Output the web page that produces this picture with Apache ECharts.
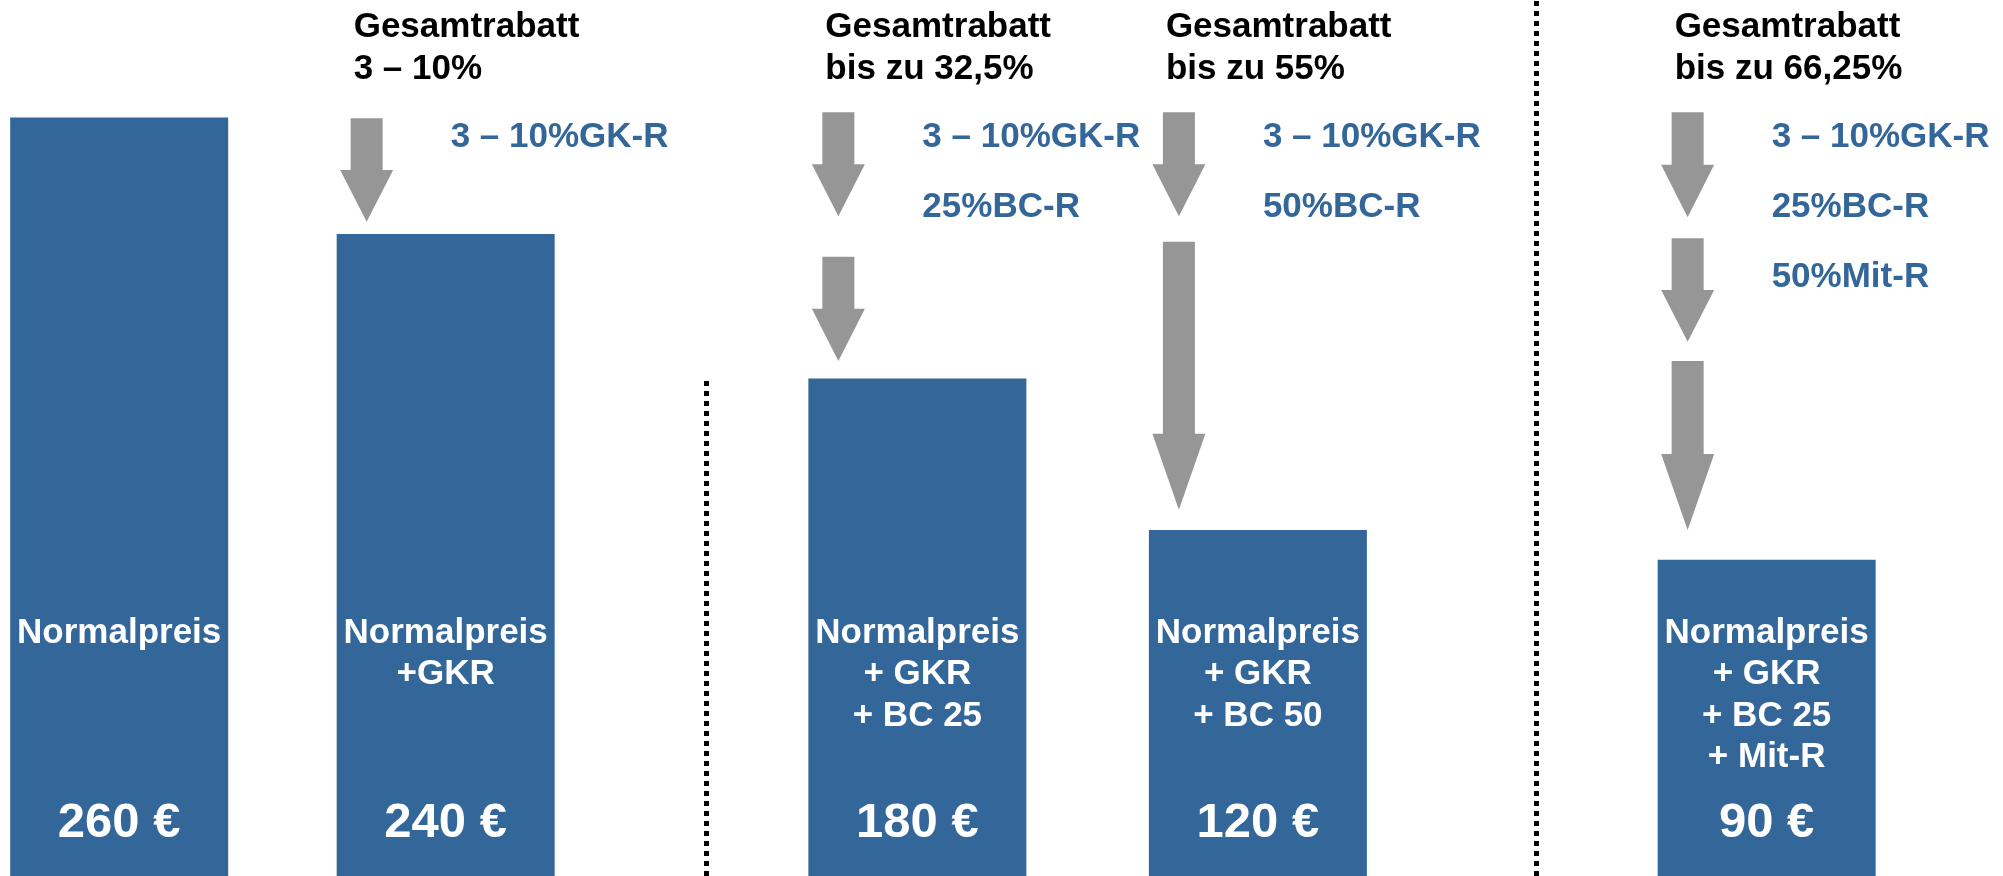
<!DOCTYPE html>
<html lang="de">
<head>
  <meta charset="UTF-8">
  <script src="https://cdn.jsdelivr.net/npm/echarts@6/dist/echarts.min.js"></script>
  <title>Rabattstufen</title>
  <style>
    html, body { margin: 0; padding: 0; background: #fff; }
    #main { width: 2003px; height: 876px; }
  </style>
</head>
<body>
  <div id="main"></div>
  <script>
    // bars: label, price, drawn height (schematic, % of chart height), column slot on x
    var categories = ['Normalpreis', 'Normalpreis\n+GKR', 'Normalpreis\n+ GKR\n+ BC 25', 'Normalpreis\n+ GKR\n+ BC 50', 'Normalpreis\n+ GKR\n+ BC 25\n+ Mit-R'];
    var prices = [260, 240, 180, 120, 90];
    var barHeights = [86.6, 73.3, 56.8, 39.5, 36.1];
    var slots = [1.19, 4.45, 9.16, 12.56, 17.64];

    // dotted separators: [slot, top]
    var separators = [[7.05, 56.8], [15.34, 100]];

    // discount groups, one per discounted bar
    var groupBars = [1, 2, 3, 4];
    var totals = [
      ['Gesamtrabatt', '3 – 10%'],
      ['Gesamtrabatt', 'bis zu 32,5%'],
      ['Gesamtrabatt', 'bis zu 55%'],
      ['Gesamtrabatt', 'bis zu 66,25%']
    ];
    var steps = [
      ['3 – 10%GK-R'],
      ['3 – 10%GK-R', '25%BC-R'],
      ['3 – 10%GK-R', '50%BC-R'],
      ['3 – 10%GK-R', '25%BC-R', '50%Mit-R']
    ];
    // arrows: [bar index, from, to]
    var arrows = [
      [1, 86.5, 74.7],
      [2, 87.2, 75.3], [2, 70.7, 58.8],
      [3, 87.2, 75.3], [3, 72.4, 41.8],
      [4, 87.2, 75.2], [4, 72.8, 61.0], [4, 58.8, 39.5]
    ];

    var BLUE = '#336699';
    var GRAY = '#969696';
    var FONT = '"Liberation Sans", Arial, sans-serif';

    var myChart = echarts.init(document.getElementById('main'));

    myChart.setOption({
      animation: false,
      grid: { left: 0, right: 0, top: 0, bottom: 0 },
      xAxis: { type: 'value', min: 0, max: 20, show: false },
      yAxis: { type: 'value', min: 0, max: 100, show: false },
      series: [
        {
          type: 'bar',
          barWidth: 218,
          itemStyle: { color: BLUE },
          data: barHeights.map(function (h, i) {
            return { value: [slots[i], h], name: categories[i] };
          }),
          label: {
            show: true,
            position: 'insideBottom',
            distance: 7.5,
            formatter: function (p) {
              var lines = categories[p.dataIndex].split('\n');
              while (lines.length < 4) lines.push(' ');
              return lines.map(function (l) { return '{n|' + l + '}'; }).join('\n') +
                '\n{p|' + prices[p.dataIndex] + ' €}';
            },
            rich: {
              n: { fontSize: 35, fontWeight: 'bold', fontFamily: FONT, color: '#fff', lineHeight: 41.5 },
              p: { fontSize: 49, fontWeight: 'bold', fontFamily: FONT, color: '#fff', lineHeight: 90 }
            }
          },
          markLine: {
            silent: true,
            symbol: 'none',
            label: { show: false },
            lineStyle: { color: '#000', width: 5, type: [5, 5], cap: 'butt' },
            data: separators.map(function (s) {
              return [{ coord: [s[0], 0] }, { coord: [s[0], s[1]] }];
            })
          }
        },
        {
          // grey down arrows
          type: 'custom',
          silent: true,
          data: arrows,
          encode: { x: -1, y: -1 },
          renderItem: function (params, api) {
            var x = api.coord([slots[api.value(0)], 0])[0] - 79;
            var y0 = api.coord([0, api.value(1)])[1];
            var y1 = api.coord([0, api.value(2)])[1];
            var head = Math.min((y1 - y0) * 0.5, 76);
            var sw = 16, hw = 26.5;
            return {
              type: 'polygon',
              shape: {
                points: [
                  [x - sw, y0], [x + sw, y0], [x + sw, y1 - head], [x + hw, y1 - head],
                  [x, y1], [x - hw, y1 - head], [x - sw, y1 - head]
                ]
              },
              style: { fill: GRAY }
            };
          }
        },
        {
          // group titles and discount steps
          type: 'custom',
          silent: true,
          data: groupBars,
          encode: { x: -1, y: -1 },
          renderItem: function (params, api) {
            var g = params.dataIndex;
            var cx = api.coord([slots[groupBars[g]], 0])[0];
            var children = [];
            totals[g].forEach(function (t, i) {
              children.push({
                type: 'text',
                style: {
                  text: t, x: cx - 92, y: 27.5 + i * 42,
                  fill: '#000', font: 'bold 35px ' + FONT,
                  align: 'left', verticalAlign: 'middle'
                }
              });
            });
            steps[g].forEach(function (t, i) {
              children.push({
                type: 'text',
                style: {
                  text: t, x: cx + 5, y: 137.5 + i * 70,
                  fill: BLUE, font: 'bold 35px ' + FONT,
                  align: 'left', verticalAlign: 'middle'
                }
              });
            });
            return { type: 'group', children: children };
          }
        }
      ]
    });
  </script>
</body>
</html>
